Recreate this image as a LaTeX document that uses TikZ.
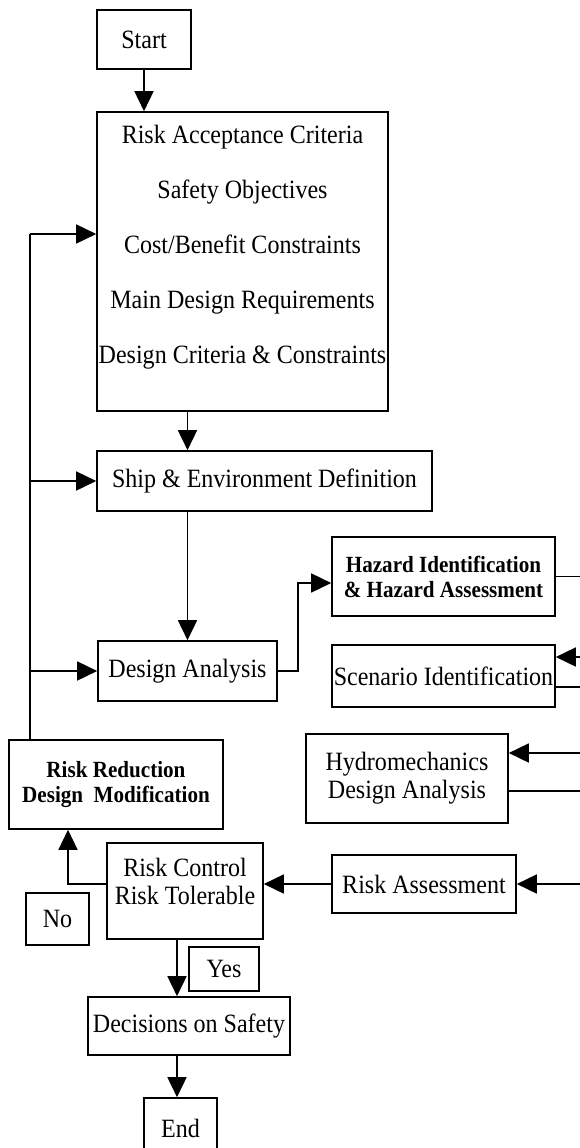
\documentclass[tikz,border=0pt]{standalone}
\usepackage{fontspec}
\setmainfont{Liberation Serif}[FakeStretch = 0.91]
\usetikzlibrary{arrows.meta,calc}

\tikzset{
  box/.style = {draw, line width = 1.6pt, inner sep = 0pt, align = center, font = \fontsize{26.4}{28}\selectfont},
  boldbox/.style = {box, font = \fontsize{23.2}{25}\selectfont\bfseries},
  flow/.style = {line width = 1.6pt, -{Triangle[length = 20pt, width = 19pt]}},
  link/.style = {line width = 1.6pt}
}

\begin{document}
\begin{tikzpicture}[x = 1pt, y = -1pt]
%\draw[very thin, color = gray](0, 0) grid[step = 50] (580, 1148);
\useasboundingbox (0, 0) rectangle (580, 1148);
\node [box, minimum width = 94, minimum height = 59] (start) at (144, 39.5) {Start};
\node [box, minimum width = 291, minimum height = 299] (crit) at (242.5, 261.5) {};
\node [align = center, inner sep = 0pt, font = \fontsize{26.4}{55}\selectfont] (critlist) at (242.5, 247.5) {Risk Acceptance Criteria\\Safety Objectives\\Cost/Benefit Constraints\\Main Design Requirements\\Design Criteria \& Constraints};
\node [box, minimum width = 335, minimum height = 60] (ship) at (264.5, 481) {Ship \& Environment Definition};
\node [boldbox, minimum width = 223, minimum height = 79] (hazard) at (443.5, 576.5) {Hazard Identification\\\& Hazard Assessment};
\node [box, minimum width = 179, minimum height = 60] (design) at (187.5, 671) {Design Analysis};
\node [box, minimum width = 223, minimum height = 62] (scenario) at (443.5, 676) {Scenario Identification};
\node [boldbox, minimum width = 214, minimum height = 89] (reduce) at (116, 784.5) {Risk Reduction\\Design\ \ Modification};
\node [box, minimum width = 202, minimum height = 89] (hydro) at (407, 778.5) {Hydromechanics\\Design Analysis};
\node [box, minimum width = 156, minimum height = 96] (control) at (185, 891) {};
\node [align = center, inner sep = 0pt, font = \fontsize{26.4}{28}\selectfont] (controltext) at (185, 881) {Risk Control\\Risk Tolerable};
\node [box, minimum width = 184, minimum height = 58] (assess) at (424, 884) {Risk Assessment};
\node [box, minimum width = 63, minimum height = 52] (no) at (57.5, 919) {No};
\node [box, minimum width = 70, minimum height = 44] (yes) at (224, 969) {Yes};
\node [box, minimum width = 202, minimum height = 58] (decide) at (189, 1026) {Decisions on Safety};
\node [box, minimum width = 73, minimum height = 60] (finish) at (180.5, 1128) {End};
% free ends
\coordinate (edge) at (580, 0);
\coordinate (spine) at (177, 0);
\coordinate (loop) at (30, 234);
\coordinate (fork) at (298, 583);
\coordinate (noline) at (68, 0);
\coordinate (scenin) at (580, 657);
\coordinate (scenout) at (580, 687);
\coordinate (hydroin) at (580, 753);
\coordinate (hydroout) at (580, 791);
% main line
\draw [flow] (start) -- (start |- crit.north);
\draw [flow] (design.north |- crit.south) -- (design.north |- ship.north);
\draw [flow] (design.north |- ship.south) -- (design.north);
% feedback
\draw [link] (reduce.north -| loop) -- (loop);
\draw [flow] (loop) -- (crit.west |- loop);
\draw [flow] (loop |- ship.west) -- (ship.west);
\draw [flow] (loop |- design.west) -- (design.west);
\draw [flow] (design.east) -| (fork) -- (hazard.west |- fork);
% right side
\draw [link] (hazard.east) -- (hazard.east -| edge);
\draw [flow] (scenin) -- (scenario.east |- scenin);
\draw [link] (scenario.east |- scenout) -- (scenout);
\draw [flow] (hydroin) -- (hydro.east |- hydroin);
\draw [link] (hydro.east |- hydroout) -- (hydroout);
\draw [flow] (assess.east -| edge) -- (assess.east);
% decision
\draw [flow] (assess.west) -- (control.east |- assess.west);
\draw [flow] (control.west |- assess.west) -| (reduce.south -| noline);
\draw [flow] (control.south -| spine) -- (decide.north -| spine);
\draw [flow] (decide.south -| spine) -- (finish.north -| spine);
\end{tikzpicture}
\end{document}
